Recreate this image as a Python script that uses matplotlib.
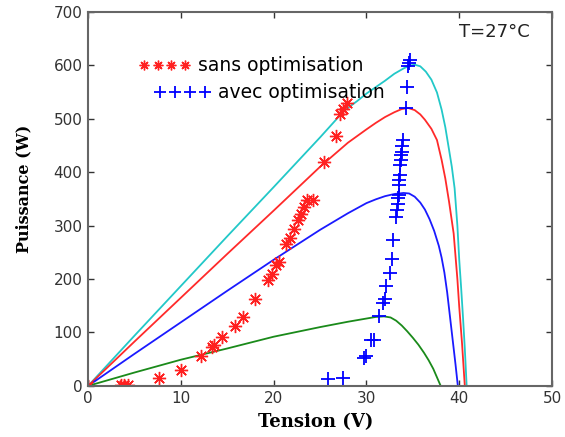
import matplotlib
matplotlib.use("Agg")
import matplotlib.pyplot as plt
from matplotlib.lines import Line2D

# P-V curves
v_cyan = [0, 5, 10, 15, 20, 25, 27.6, 29, 30, 31, 32, 33, 34, 34.6, 35.2, 35.8, 36.4, 37, 37.6,
          38.1, 38.5, 38.9, 39.2, 39.5, 39.8, 40.0, 40.2, 40.4, 40.6, 40.8]
p_cyan = [0, 94, 187, 280, 372, 465, 515, 533, 547, 559, 571, 584, 594, 599, 601, 598, 588, 573, 549,
          517, 484, 442, 410, 370, 300, 236, 185, 130, 70, 0]

v_red = [0, 5, 10, 15, 20, 25, 28, 30, 31, 32, 33, 33.8, 34.5, 35.2, 35.8, 36.3, 37, 37.6, 38.1,
         38.5, 38.9, 39.4, 39.8, 40.0, 40.3, 40.6]
p_red = [0, 83, 165, 247, 328, 410, 455, 480, 492, 503, 512, 518, 520, 516, 508, 498, 481, 460, 423,
         388, 345, 285, 200, 148, 80, 0]

v_blue = [0, 5, 10, 15, 20, 25, 28, 30, 31, 32, 33, 34, 34.6, 35.2, 35.8, 36.3, 36.8, 37.3, 37.8,
          38.1, 38.4, 38.7, 39.0, 39.3, 39.6, 39.85]
p_blue = [0, 60, 119, 178, 236, 292, 323, 342, 349, 355, 359, 361, 360, 354, 343, 330, 312, 290, 262,
          240, 212, 175, 130, 85, 40, 0]

v_green = [0, 5, 10, 15, 20, 25, 28, 30, 31, 31.9, 32.6, 33.2, 33.8, 34.4, 35.0, 35.6, 36.2, 36.7,
           37.2, 37.6, 38.0]
p_green = [0, 25, 49, 70, 92, 110, 120, 126, 129, 130, 128, 122, 113, 102, 90, 77, 62, 48,
           32, 16, 0]

# Operating points
v_sans = [0, 3.5, 3.9, 4.3, 7.6, 10.0, 12.2, 13.3, 13.6, 14.4, 15.8, 16.7, 18.0, 19.4, 19.8,
          20.3, 20.6, 21.3, 21.8, 22.2, 22.6, 22.9, 23.3, 23.6, 24.2, 25.4, 26.7, 27.2, 27.5, 27.9]
p_sans = [0, 1, 1, 1, 15, 30, 56, 72, 76, 91, 112, 129, 163, 198, 210,
          226, 232, 266, 277, 294, 310, 322, 335, 347, 348, 418, 468, 508, 518, 530]

v_avec = [25.9, 27.5, 29.7, 29.9, 30.5, 30.8, 31.3, 31.8, 32.0, 32.1, 32.5, 32.7, 32.9, 33.2, 33.3,
          33.4, 33.4, 33.5, 33.5, 33.5, 33.6, 33.6, 33.7, 33.7, 33.8, 33.8, 33.9, 34.3, 34.4, 34.5, 34.6, 34.7]
p_avec = [13, 15, 52, 56, 86, 86, 130, 155, 163, 186, 211, 238, 273, 316, 330,
          340, 352, 358, 376, 386, 395, 414, 423, 432, 438, 448, 461, 520, 560, 598, 604, 610]

fig = plt.figure(figsize=(5.65, 4.37), dpi=100)
ax = fig.add_axes([0.156, 0.117, 0.821, 0.856])

ax.plot(v_cyan, p_cyan, color='#22c8c8', lw=1.3)
ax.plot(v_red, p_red, color='#ff2a2a', lw=1.3)
ax.plot(v_blue, p_blue, color='#1a1aff', lw=1.3)
ax.plot(v_green, p_green, color='#1a8a1a', lw=1.3)

star = (8, 2, 0)
ax.plot(v_sans, p_sans, ls='none', marker=star, ms=9.5, mew=1.0, color='#ff2020')
ax.plot(v_avec, p_avec, ls='none', marker='+', ms=10, mew=1.3, color='#0000ff')

ax.set_xlim(0, 50)
ax.set_ylim(0, 700)
ax.set_xticks(range(0, 51, 10))
ax.set_yticks(range(0, 701, 100))
ax.tick_params(direction='in', top=True, right=True, length=4, width=1,
               labelsize=11, colors='#333333', labelcolor='#333333', pad=4)
for tl in ax.get_xticklabels() + ax.get_yticklabels():
    tl.set_family('DejaVu Sans')
for s in ax.spines.values():
    s.set_color('#666666')
    s.set_linewidth(1.5)

ax.set_xlabel('Tension (V)', family='DejaVu Serif', weight='bold', fontsize=13)
ax.set_ylabel('Puissance (W)', family='DejaVu Serif', weight='bold', fontsize=11.5)
ax.xaxis.set_label_coords(0.491, -0.072)
ax.yaxis.set_label_coords(-0.121, 0.527)

ax.text(0.952, 0.945, 'T=27°C', transform=ax.transAxes, ha='right', va='center',
        family='DejaVu Sans', fontsize=13, color='#222222')

h1 = Line2D([], [], ls='none', marker=star, ms=7, mew=1.0, color='#ff2020')
h2 = Line2D([], [], ls='none', marker='+', ms=9, mew=1.3, color='#0000ff')
leg1 = ax.legend([h1], ['sans optimisation'], numpoints=4, frameon=False,
                 loc='center left', bbox_to_anchor=(0.108, 0.856), handlelength=2.8,
                 handletextpad=0.4, prop={'family': 'DejaVu Sans', 'size': 13.5},
                 borderpad=0, borderaxespad=0)
ax.add_artist(leg1)
leg2 = ax.legend([h2], ['avec optimisation'], numpoints=4, frameon=False,
                 loc='center left', bbox_to_anchor=(0.142, 0.784), handlelength=3.0,
                 handletextpad=0.4, prop={'family': 'DejaVu Sans', 'size': 13.5},
                 borderpad=0, borderaxespad=0)

fig.savefig('out.png', dpi=100)
